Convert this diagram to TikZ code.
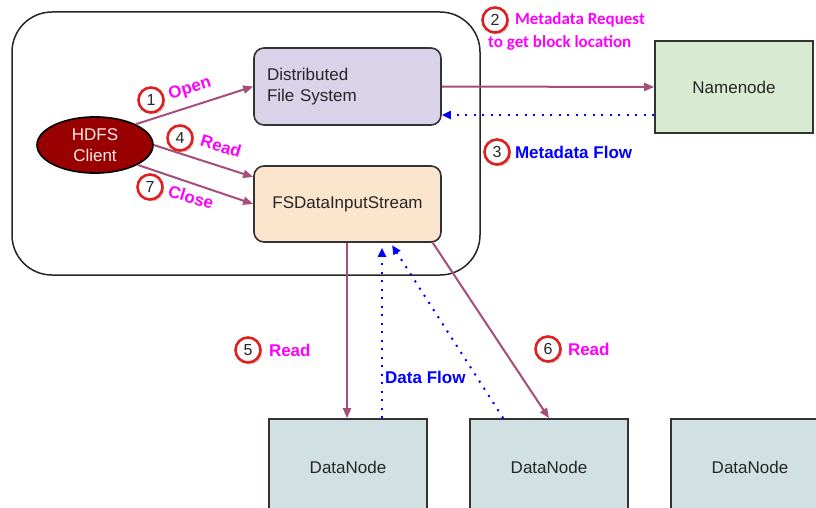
\documentclass[tikz,border=0pt]{standalone}
\usepackage{fontspec}
\setmainfont{Liberation Sans}
\newfontfamily\calfont{Carlito}
\usetikzlibrary{arrows.meta,positioning,shadows,shapes.geometric}
\definecolor{purp}{HTML}{A64D79}
\definecolor{dkred}{HTML}{990000}
\definecolor{lav}{HTML}{D9D2E9}
\definecolor{peach}{HTML}{FCE5CD}
\definecolor{mint}{HTML}{D9EAD3}
\definecolor{cyanish}{HTML}{D0E0E3}
\definecolor{ring}{HTML}{E02020}
\definecolor{pink}{HTML}{FF00FF}
\definecolor{flowblue}{HTML}{0000FF}

\begin{document}
\begin{tikzpicture}[x=1pt,y=-1pt,
    every node/.style={font=\fontsize{17}{21}\selectfont,text=black!85},
    box/.style={draw=black!80,line width=1.6pt,rounded corners=10pt,minimum width=187pt},
    sqbox/.style={draw=black!80,line width=1.6pt,minimum width=158pt},
    num/.style={circle,draw=ring,line width=2.6pt,fill=white,minimum size=25pt,inner sep=0,
      font=\fontsize{16}{16}\selectfont,
      drop shadow={shadow xshift=2pt,shadow yshift=-2pt,opacity=0.35}},
    lbl/.style={inner sep=0,text=pink,font=\fontsize{17}{20}\selectfont\bfseries},
    mlbl/.style={inner sep=0,text=pink,font=\fontsize{17}{20}\selectfont\calfont\bfseries},
    flbl/.style={inner sep=0,text=flowblue,font=\fontsize{17}{20}\selectfont\bfseries},
    arr/.style={draw=purp,line width=2pt,-{Triangle[length=10pt,width=8pt]}},
    flow/.style={draw=flowblue,line width=2pt,dash pattern=on 2pt off 6.5pt,-{Triangle[length=9pt,width=8pt]}}]
  \useasboundingbox (0,0) rectangle (816,508);
  \clip (0,0) rectangle (816,508);

  \node[draw=black!85,line width=1.5pt,rounded corners=40pt,minimum width=468pt,minimum height=263pt] (jvm) at (246,143.5) {};
  \node[ellipse,draw=black,line width=1.6pt,fill=dkred,minimum width=116pt,minimum height=55pt,
    align=center,text=white!92!red] (client) at (95,145) {HDFS\\Client};
  \node[box,fill=lav,minimum height=77pt,text width=161pt,inner xsep=13pt,align=left] (dfs) at (347.5,86.5) {Distributed\\File System};
  \node[box,fill=peach,minimum height=76pt] (fsd) at (347.5,204) {FSDataInputStream};
  \node[sqbox,fill=mint,minimum height=92pt] (nn) at (734,87) {Namenode};
  \node[sqbox,fill=cyanish,minimum height=96pt] (dn1) at (348,467) {DataNode};
  \node[sqbox,fill=cyanish,minimum height=96pt] (dn2) at (549,467) {DataNode};
  \node[sqbox,fill=cyanish,minimum height=96pt] (dn3) at (750,467) {DataNode};

  % client calls
  \draw[arr] (client.27) -- (dfs.west);
  \draw[arr] (client.east) -- ([yshift=27pt]fsd.west);
  \draw[arr] (client.-25) -- (fsd.west);
  % namenode
  \draw[arr] (dfs.east) -- (nn.west);
  \draw[flow] ([yshift=-28pt]nn.west) -- ([yshift=-28pt]nn.west -| dfs.east);
  % datanodes
  \draw[arr] ([xshift=-0.5pt]fsd.south) -- ([xshift=-0.5pt]fsd.south |- dn1.north);
  \draw[flow,shorten >=5pt] ([xshift=34pt]dn1.north) -- ([xshift=34pt]dn1.north |- fsd.south);
  \draw[flow,shorten >=3pt] ([xshift=34pt]dn2.north west) -- ([xshift=43pt]fsd.south);
  \draw[arr] ([xshift=-9pt]fsd.south east) -- (dn2.north);

  \node[num] (n1) at (151,100) {1};
  \node[lbl,rotate=17] (open) at (190,89) {Open};
  \node[num] (n4) at (180,138) {4};
  \node[lbl,rotate=-17] (read4) at (221,146) {Read};
  \node[num] (n7) at (150,187) {7};
  \node[lbl,rotate=-17] (close) at (191,197) {Close};

  \node[num] (n2) at (495,20) {2};
  \node[mlbl,right=6pt of n2] (req) {Metadata Request};
  \node[mlbl,anchor=west] (req2) at (488,43) {to get block location};
  \node[num] (n3) at (497,152) {3};
  \node[flbl,right=4pt of n3] (mflow) {Metadata Flow};

  \node[num] (n5) at (248,350) {5};
  \node[lbl,right=7pt of n5] (read5) {Read};
  \node[num] (n6) at (548,349) {6};
  \node[lbl,right=6pt of n6] (read6) {Read};
  \node[flbl,anchor=west] (dflow) at (385,377) {Data Flow};
\end{tikzpicture}
\end{document}
